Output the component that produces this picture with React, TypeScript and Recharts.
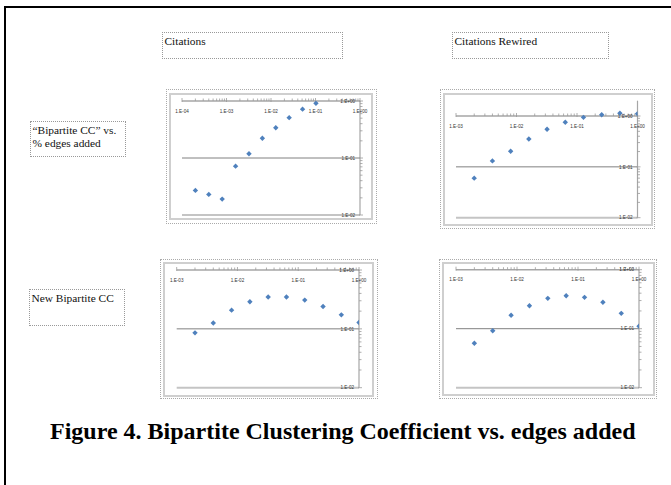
import React from 'react';
import { ScatterChart, Scatter, XAxis, YAxis, ReferenceLine, ReferenceDot } from 'recharts';

// fraction of edges added (x) vs. bipartite clustering coefficient (y)
const citationsEdges = [0.0002, 0.0004, 0.0008, 0.0016, 0.0032, 0.0064, 0.0128, 0.0256, 0.0512, 0.1024];
const citationsCC = [0.027, 0.023, 0.019, 0.072, 0.119, 0.222, 0.34, 0.51, 0.72, 0.91];

const rewiredEdges = [0.002, 0.004, 0.008, 0.016, 0.032, 0.064, 0.128, 0.256, 0.512, 1.0];
const rewiredCC = [0.06, 0.131, 0.203, 0.354, 0.548, 0.752, 0.94, 1.06, 1.13, 1.11];

const citationsNewEdges = [0.002, 0.004, 0.008, 0.016, 0.032, 0.064, 0.128, 0.256, 0.512, 1.0];
const citationsNewCC = [0.0855, 0.126, 0.208, 0.288, 0.347, 0.347, 0.308, 0.24, 0.173, 0.128];

const rewiredNewEdges = [0.002, 0.004, 0.008, 0.016, 0.032, 0.064, 0.128, 0.256, 0.512, 1.0];
const rewiredNewCC = [0.0566, 0.0925, 0.169, 0.245, 0.327, 0.362, 0.34, 0.28, 0.182, 0.11];

// tick values and their Excel-style labels
const xTicksCitations = [0.0001, 0.001, 0.01, 0.1, 1];
const xLabelsCitations = ['1.E-04', '1.E-03', '1.E-02', '1.E-01', '1.E+00'];
const xTicksRewired = [0.001, 0.01, 0.1, 1];
const xLabelsRewired = ['1.E-03', '1.E-02', '1.E-01', '1.E+00'];
const yTicks = [0.01, 0.1, 1];
const yLabels = ['1.E-02', '1.E-01', '1.E+00'];

const BLUE = '#4F81BD';
const TICK_FONT = '"Liberation Sans", Arial, sans-serif';
const SERIF = '"Liberation Serif", "Times New Roman", serif';

// 2..9 inside every decade between the major ticks
const minorTicks = (majors: number[]) =>
  majors.slice(0, -1).flatMap((m) => [2, 3, 4, 5, 6, 7, 8, 9].map((k) => k * m));

const toPoints = (xs: number[], ys: number[]) => xs.map((x, i) => ({ x, y: ys[i] }));

const Diamond = (p: any) => {
  const { cx, cy } = p;
  const r = 2.7;
  return <path d={`M${cx},${cy - r}L${cx + r},${cy}L${cx},${cy + r}L${cx - r},${cy}Z`} fill={BLUE} />;
};

const xTickShape = (label: string | null, major: boolean) => (p: any) => (
  <g>
    <line x1={p.cx} x2={p.cx} y1={p.cy - (major ? 3 : 2.5)} y2={p.cy + (major ? 1 : 0)} stroke="#9a9a9a" strokeWidth={0.8} />
    {label && (
      <text x={p.cx} y={p.cy + 11.5} textAnchor="middle" fontSize={4.6} fontFamily={TICK_FONT} fill="#333">
        {label}
      </text>
    )}
  </g>
);

const yTickShape = (label: string | null, major: boolean) => (p: any) => (
  <g>
    <line x1={p.cx - (major ? 1 : 0)} x2={p.cx + (major ? 3 : 2.5)} y1={p.cy} y2={p.cy} stroke="#9a9a9a" strokeWidth={0.8} />
    {label && (
      <text x={p.cx - 5} y={p.cy + 1.7} textAnchor="end" fontSize={4.6} fontFamily={TICK_FONT} fill="#333">
        {label}
      </text>
    )}
  </g>
);

type Box = { left: number; top: number; width: number; height: number };
type Margin = { top: number; right: number; bottom: number; left: number };

interface PanelProps {
  outer: Box;
  inner: Box;
  margin: Margin;
  xs: number[];
  ys: number[];
  xTicks: number[];
  xLabels: string[];
  yMax: number;
}

const Panel: React.FC<PanelProps> = ({ outer, inner, margin, xs, ys, xTicks, xLabels, yMax }) => {
  const xMin = xTicks[0];
  const xMax = xTicks[xTicks.length - 1];
  return (
    <>
      <div style={{ position: 'absolute', ...outer, boxSizing: 'border-box', border: '1px dotted #aaa' }} />
      <div style={{ position: 'absolute', ...inner, boxSizing: 'border-box', border: '2px solid #cfcfcf' }} />
      <div style={{ position: 'absolute', left: inner.left, top: inner.top }}>
        <ScatterChart width={inner.width} height={inner.height} margin={margin}>
          <XAxis type="number" dataKey="x" scale="log" domain={[xMin, xMax]} allowDataOverflow hide />
          <YAxis type="number" dataKey="y" scale="log" domain={[0.01, yMax]} allowDataOverflow hide />
          <ReferenceLine y={0.01} stroke="#c4c4c4" strokeWidth={2} ifOverflow="visible" />
          <ReferenceLine y={0.1} stroke="#808080" strokeWidth={1} ifOverflow="visible" />
          <ReferenceLine y={1} stroke="#a6a6a6" strokeWidth={1.5} ifOverflow="visible" />
          <ReferenceLine x={xMax} stroke="#a6a6a6" strokeWidth={1.2} ifOverflow="visible" />
          {minorTicks(xTicks).map((v) => (
            <ReferenceDot key={`xm${v}`} x={v} y={1} ifOverflow="visible" shape={xTickShape(null, false)} />
          ))}
          {xTicks.map((v, i) => (
            <ReferenceDot key={`xM${v}`} x={v} y={1} ifOverflow="visible" shape={xTickShape(xLabels[i], true)} />
          ))}
          {minorTicks(yTicks).map((v) => (
            <ReferenceDot key={`ym${v}`} x={xMax} y={v} ifOverflow="visible" shape={yTickShape(null, false)} />
          ))}
          {yTicks.map((v, i) => (
            <ReferenceDot key={`yM${v}`} x={xMax} y={v} ifOverflow="visible" shape={yTickShape(yLabels[i], true)} />
          ))}
          <Scatter data={toPoints(xs, ys)} shape={Diamond} isAnimationActive={false} />
        </ScatterChart>
      </div>
    </>
  );
};

const TextBox: React.FC<{ box: Box; children: React.ReactNode }> = ({ box, children }) => (
  <div
    style={{
      position: 'absolute',
      ...box,
      boxSizing: 'border-box',
      border: '1px dotted #999',
      padding: '2.3px 1.5px 0',
      fontFamily: SERIF,
      fontSize: 11.4,
      lineHeight: '12.7px',
      color: '#111',
      whiteSpace: 'nowrap',
    }}
  >
    {children}
  </div>
);

const App: React.FC = () => {
  return (
    <div style={{ position: 'absolute', left: 0, top: 0, width: 671, height: 485, overflow: 'hidden', background: '#fff' }}>
      <div style={{ position: 'absolute', left: 4, top: 6, width: 720, height: 600, border: '2px solid #000' }} />

      <TextBox box={{ left: 162, top: 32, width: 181, height: 27 }}>Citations</TextBox>
      <TextBox box={{ left: 452, top: 32, width: 157, height: 27 }}>Citations Rewired</TextBox>
      <TextBox box={{ left: 30, top: 121, width: 96, height: 36 }}>
        “Bipartite CC” vs.
        <br />% edges added
      </TextBox>
      <TextBox box={{ left: 29, top: 289, width: 96, height: 37 }}>New Bipartite CC</TextBox>

      <Panel
        outer={{ left: 166, top: 89, width: 211, height: 135 }}
        inner={{ left: 169, top: 93, width: 204, height: 127 }}
        margin={{ top: 8, right: 13, bottom: 5, left: 13 }}
        xs={citationsEdges}
        ys={citationsCC}
        xTicks={xTicksCitations}
        xLabels={xLabelsCitations}
        yMax={1}
      />
      <Panel
        outer={{ left: 440, top: 89, width: 215, height: 140 }}
        inner={{ left: 443, top: 93, width: 210, height: 133 }}
        margin={{ top: 7.7, right: 15.5, bottom: 8.3, left: 13 }}
        xs={rewiredEdges}
        ys={rewiredCC}
        xTicks={xTicksRewired}
        xLabels={xLabelsRewired}
        yMax={2}
      />
      <Panel
        outer={{ left: 160, top: 259, width: 218, height: 140 }}
        inner={{ left: 163, top: 262, width: 211, height: 135 }}
        margin={{ top: 8, right: 15, bottom: 9.3, left: 13.7 }}
        xs={citationsNewEdges}
        ys={citationsNewCC}
        xTicks={xTicksRewired}
        xLabels={xLabelsRewired}
        yMax={1}
      />
      <Panel
        outer={{ left: 439, top: 259, width: 218, height: 140 }}
        inner={{ left: 442, top: 262, width: 213, height: 134 }}
        margin={{ top: 7.7, right: 16, bottom: 8.3, left: 14 }}
        xs={rewiredNewEdges}
        ys={rewiredNewCC}
        xTicks={xTicksRewired}
        xLabels={xLabelsRewired}
        yMax={1}
      />

      <div
        style={{
          position: 'absolute',
          left: 50,
          top: 419,
          fontFamily: SERIF,
          fontWeight: 'bold',
          fontSize: 24,
          lineHeight: '24px',
          color: '#000',
          whiteSpace: 'nowrap',
        }}
      >
        Figure 4. Bipartite Clustering Coefficient vs. edges added
      </div>
    </div>
  );
};

export default App;
